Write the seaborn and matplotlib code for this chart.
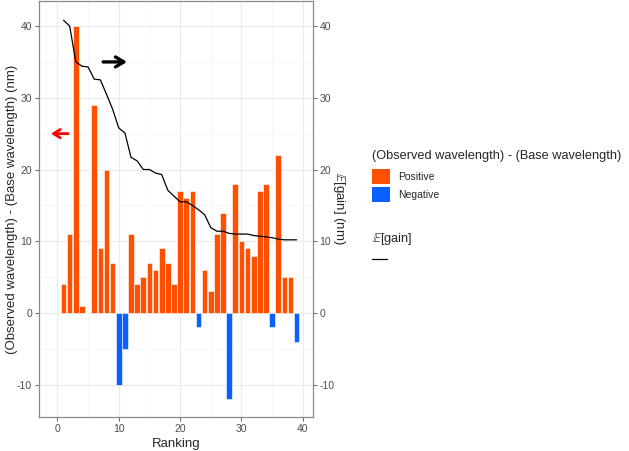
import numpy as np
import pandas as pd
import matplotlib
matplotlib.use("Agg")
import matplotlib.pyplot as plt
from matplotlib.patches import Patch
from matplotlib.lines import Line2D
import seaborn as sns

# --- dados ---
ranking = list(range(1, 40))
diff_nm = [4, 11, 40, 1, 0, 29, 9, 20, 7, -10,
           -5, 11, 4, 5, 7, 6, 9, 7, 4, 17,
           16, 17, -2, 6, 3, 11, 14, -12, 18, 10,
           9, 8, 17, 18, -2, 22, 5, 5, -4]
expected_gain = [40.8, 40.0, 35.0, 34.4, 34.3, 32.6, 32.5, 30.5, 28.4, 25.8,
                 25.1, 21.7, 21.2, 20.0, 20.0, 19.5, 19.3, 17.1, 16.3, 15.5,
                 15.5, 15.0, 14.4, 13.7, 11.9, 11.4, 11.4, 11.1, 11.0, 11.0,
                 11.0, 10.8, 10.7, 10.6, 10.5, 10.3, 10.2, 10.2, 10.2]
sign_labels = ["Positive", "Negative"]
sign_colors = {"Positive": "#FF4F00", "Negative": "#0A5FFF"}

df = pd.DataFrame({"Ranking": ranking, "diff": diff_nm, "gain": expected_gain})
df["sign"] = np.where(df["diff"] >= 0, "Positive", "Negative")

sns.set_theme(style="white")
plt.rcParams["font.family"] = ["Liberation Sans", "DejaVu Sans"]
plt.rcParams["mathtext.fontset"] = "dejavusans"
plt.rcParams["axes.unicode_minus"] = False

fig = plt.figure(figsize=(6.29, 4.51), dpi=100)
ax = fig.add_axes([0.062, 0.0754, 0.435, 0.9225])

sns.barplot(data=df, x="Ranking", y="diff", hue="sign", palette=sign_colors,
            native_scale=True, width=0.92, dodge=False, legend=False, saturation=1,
            edgecolor="white", linewidth=0.4, ax=ax, zorder=2)

ax2 = ax.twinx()
sns.lineplot(data=df, x="Ranking", y="gain", color="black", linewidth=0.9, ax=ax2)

major = [-10, 0, 10, 20, 30, 40]
ax.set_yticks(major)
ax.set_yticks([-5, 5, 15, 25, 35], minor=True)
ax.set_xticks([0, 10, 20, 30, 40])
ax.set_xticks([5, 15, 25, 35], minor=True)
ax2.set_yticks(major)

# limites depois dos ticks (set_xticks expande a escala)
ylim = (-14.5, 43.5)
ax.set_xlim(-3.0, 41.6)
ax.set_ylim(*ylim)
ax2.set_ylim(*ylim)

ax.grid(True, which="major", color="#EBEBEB", linewidth=0.8, zorder=0)
ax.grid(True, which="minor", color="#F4F4F4", linewidth=0.5, zorder=0)
ax.set_axisbelow(True)

tick_kw = dict(labelsize=7.5, labelcolor="#4D4D4D", color="#4D4D4D",
               length=3, width=0.6, direction="out", pad=2)
ax.tick_params(axis="both", which="major", left=True, bottom=True, **tick_kw)
ax.tick_params(axis="both", which="minor", length=0)
ax2.tick_params(axis="y", which="major", right=True, **tick_kw)

for a in (ax, ax2):
    for s in a.spines.values():
        s.set_color("#888888")
        s.set_linewidth(0.8)

ax.set_xlabel("Ranking", fontsize=9.5, labelpad=3)
ax.set_ylabel("(Observed wavelength) - (Base wavelength) (nm)", fontsize=9.5)
ax.yaxis.set_label_coords(-0.078, 0.5)
ax2.set_ylabel(r"$\mathbb{E}$[gain] (nm)", fontsize=9.5, rotation=270, labelpad=9)
ax2.set_xlabel("")

# setas
ax2.annotate("", xy=(11.8, 35), xytext=(7.0, 35),
             arrowprops=dict(arrowstyle="->,head_length=0.5,head_width=0.3", color="black", lw=2.4))
ax2.annotate("", xy=(-1.5, 25), xytext=(2.2, 25),
             arrowprops=dict(arrowstyle="->,head_length=0.4,head_width=0.25", color="red", lw=2.0))

# legendas
handles = [Patch(facecolor=sign_colors[s], edgecolor="none") for s in sign_labels]
leg1 = fig.legend(handles, sign_labels, title="(Observed wavelength) - (Base wavelength)",
                  loc="upper left", bbox_to_anchor=(0.585, 0.677), frameon=False,
                  fontsize=7.5, title_fontsize=9.2, handlelength=1.7, handleheight=1.9,
                  handletextpad=0.8, labelspacing=0.25, borderaxespad=0)
leg1._legend_box.align = "left"
leg1._legend_box.sep = 5
leg2 = fig.legend([Line2D([], [], color="black", lw=0.9)], [""], title=r"$\mathbb{E}$[gain]",
                  loc="upper left", bbox_to_anchor=(0.585, 0.498), frameon=False,
                  fontsize=7.5, title_fontsize=9.2, handlelength=1.4, handletextpad=0.5,
                  borderaxespad=0)
leg2._legend_box.align = "left"
leg2._legend_box.sep = 6

fig.savefig("out.png", dpi=100)
